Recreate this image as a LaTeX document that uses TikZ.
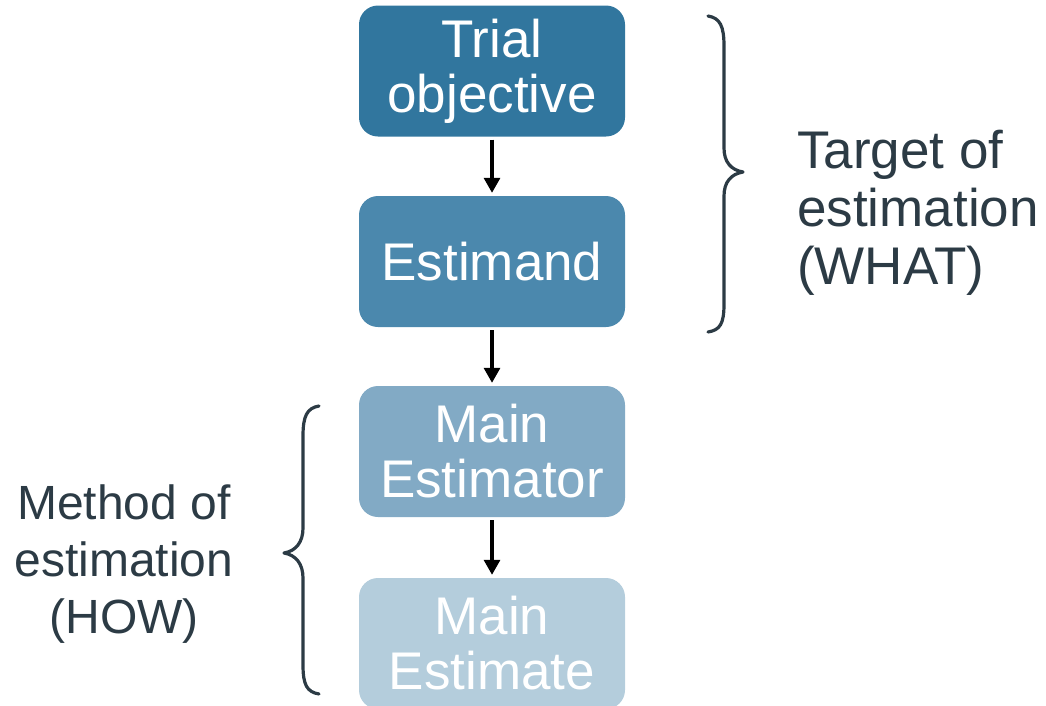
\documentclass[tikz,border=0pt]{standalone}
\usepackage{fontspec}
\setmainfont{Liberation Sans}
\usetikzlibrary{arrows.meta}
\definecolor{cA}{HTML}{31769E}
\definecolor{cB}{HTML}{4B88AD}
\definecolor{cC}{HTML}{82AAC5}
\definecolor{cD}{HTML}{B4CDDC}
\definecolor{slate}{HTML}{2C3B45}
\tikzset{
  box/.style={rectangle, rounded corners=19pt, minimum width=266pt, minimum height=131pt,
    inner sep=0pt, text=white, align=center, font=\fontsize{53}{55}\selectfont},
  flow/.style={line width=3.2pt, black, -{Triangle[width=16pt,length=15pt]}, shorten <=3pt, shorten >=3pt},
  brace/.style={line width=3.2pt, slate, line cap=round, line join=round},
  side/.style={inner sep=0pt, text=slate, font=\fontsize{53}{58}\selectfont},
  sideL/.style={inner sep=0pt, text=slate, font=\fontsize{48}{57}\selectfont}
}
\begin{document}
\begin{tikzpicture}[x=1pt,y=-1pt]
\useasboundingbox (0,0) rectangle (1046,705);
\node[box, fill=cA] (trial) at (492,71) {Trial\\objective};
\node[box, fill=cB] (estimand) at (492,261.5) {Estimand};
\node[box, fill=cC] (estimator) at (492,451.5) {Main\\Estimator};
\node[box, fill=cD] (estimate) at (492,643.5) {Main\\Estimate};
\draw[flow] (trial) -- (estimand);
\draw[flow] (estimand) -- (estimator);
\draw[flow] (estimator) -- (estimate);
% right brace
\draw[brace] (708,16) .. controls (720,18) and (724,26) .. (724,46) -- (724,148)
  .. controls (724,162) and (731,170) .. (743,172)
  .. controls (731,174) and (724,182) .. (724,196) -- (724,304)
  .. controls (724,324) and (720,330) .. (708,332);
% left brace
\draw[brace] (319,406) .. controls (307,408) and (303,416) .. (303,436) -- (303,528)
  .. controls (303,542) and (296,551) .. (284,553)
  .. controls (296,555) and (303,564) .. (303,578) -- (303,665)
  .. controls (303,685) and (307,692) .. (319,694);
\node[side, anchor=west, align=left] (what) at (797,213) {Target of\\estimation\\(WHAT)};
\node[sideL, align=center] (how) at (124,564) {Method of\\estimation\\(HOW)};
\end{tikzpicture}
\end{document}
